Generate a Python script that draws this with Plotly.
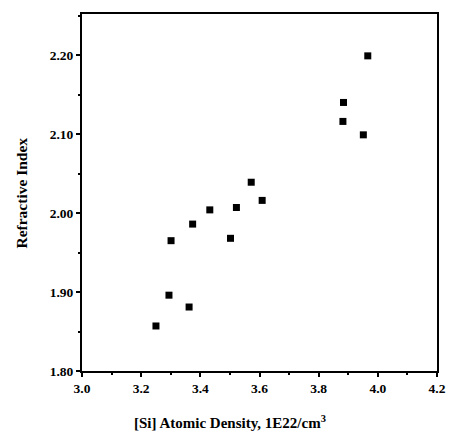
import plotly.graph_objects as go

si_density = [3.25, 3.294, 3.362, 3.301, 3.374, 3.432, 3.502, 3.522, 3.572, 3.609, 3.882, 3.884, 3.951, 3.966]
refr_index = [1.857, 1.896, 1.881, 1.965, 1.986, 2.004, 1.968, 2.007, 2.039, 2.016, 2.116, 2.140, 2.099, 2.199]

x_ticks = [3.0, 3.2, 3.4, 3.6, 3.8, 4.0, 4.2]
x_tick_labels = ["3.0", "3.2", "3.4", "3.6", "3.8", "4.0", "4.2"]
y_ticks = [1.80, 1.90, 2.00, 2.10, 2.20]
y_tick_labels = ["1.80", "1.90", "2.00", "2.10", "2.20"]

fig = go.Figure(go.Scatter(
    x=si_density, y=refr_index, mode="markers",
    marker=dict(symbol="square", size=7, color="black"),
))

font = "Liberation Serif, Times New Roman, serif"
fig.update_layout(
    width=458, height=438,
    margin=dict(l=82, r=12, t=12, b=67),
    paper_bgcolor="white", plot_bgcolor="white",
    showlegend=False,
    font=dict(family=font, color="black", size=12),
)
fig.update_xaxes(
    range=[3.0, 4.2], tickvals=x_ticks, ticktext=x_tick_labels,
    ticks="outside", ticklen=4, tickwidth=1.5, tickcolor="black",
    minor=dict(ticks="outside", ticklen=2, dtick=0.1, tickcolor="black", tickwidth=1.5),
    showline=True, linecolor="black", linewidth=2, mirror=True,
    showgrid=False, zeroline=False,
    tickfont=dict(family=font, size=13.5, color="black", weight="bold"),
)
fig.update_yaxes(
    range=[1.80, 2.252], tickvals=y_ticks, ticktext=y_tick_labels,
    ticks="outside", ticklen=4, tickwidth=1.5, tickcolor="black",
    minor=dict(ticks="outside", ticklen=2, dtick=0.05, tickcolor="black", tickwidth=1.5),
    showline=True, linecolor="black", linewidth=2, mirror=True,
    showgrid=False, zeroline=False,
    tickfont=dict(family=font, size=13.5, color="black", weight="bold"),
)
fig.add_annotation(
    text="[Si] Atomic Density, 1E22/cm<sup>3</sup>",
    xref="paper", yref="paper", x=0.418, y=-0.142,
    xanchor="center", yanchor="middle", showarrow=False,
    font=dict(family=font, size=15, color="black", weight="bold"),
)
fig.add_annotation(
    text="Refractive Index", textangle=-90,
    xref="paper", yref="paper", x=-0.170, y=0.499,
    xanchor="center", yanchor="middle", showarrow=False,
    font=dict(family=font, size=15.5, color="black", weight="bold"),
)

fig.write_html(
    "out.html",
    config={"displayModeBar": False},
    post_script="document.body.style.margin='0px';document.body.style.overflow='hidden';",
)
